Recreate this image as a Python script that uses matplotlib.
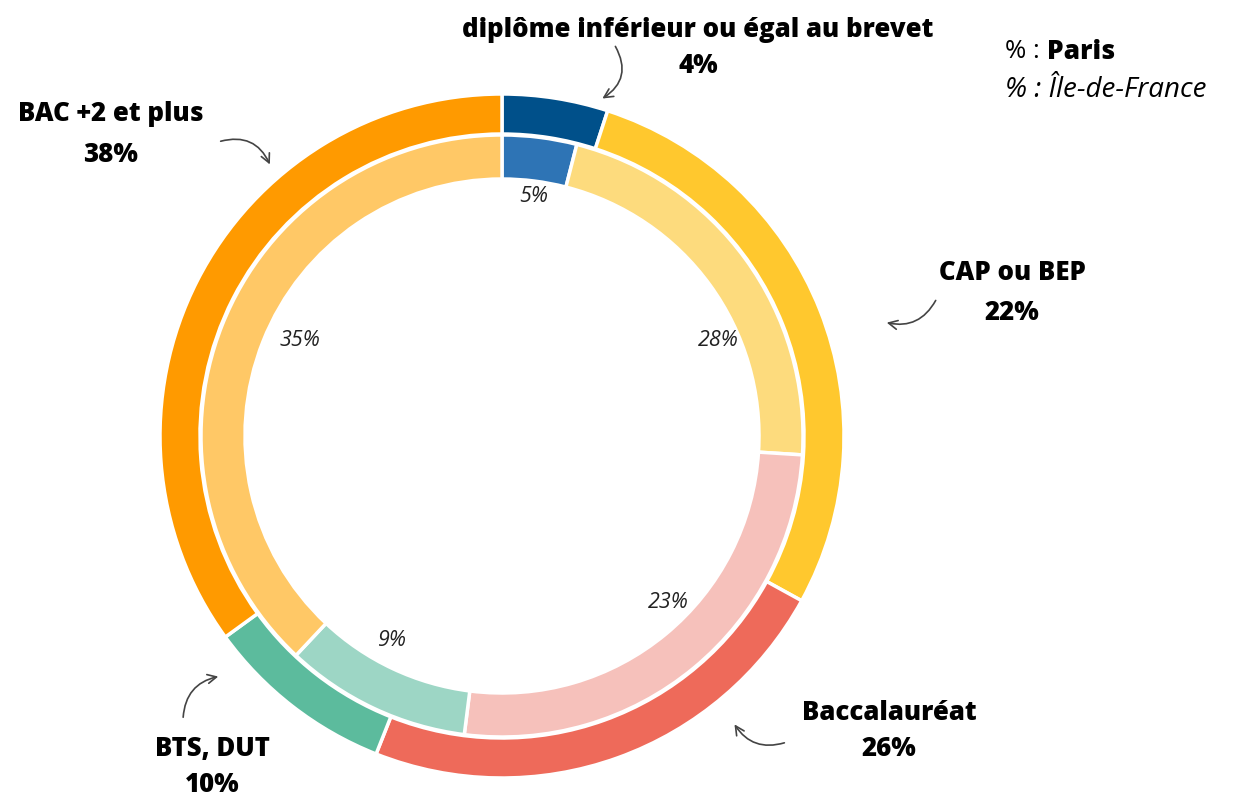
import matplotlib.pyplot as plt

categories = ["diplôme inférieur ou égal au brevet", "CAP ou BEP", "Baccalauréat",
              "BTS, DUT", "BAC +2 et plus"]
paris = [4, 22, 26, 10, 38]
idf = [5, 28, 23, 9, 35]

outer_colors = ["#00508A", "#FFC82E", "#EE6A5A", "#5CBB9D", "#FF9A00"]
inner_colors = ["#2E74B5", "#FDDB7D", "#F6C1BB", "#9DD6C5", "#FFC866"]

plt.rcParams['font.family'] = ['Open Sans', 'DejaVu Sans']

W, H = 1243, 798
fig = plt.figure(figsize=(W / 100, H / 100), dpi=100)
ax = fig.add_axes([0, 0, 1, 1])

cx, cy = 502, H - 436

# rings as drawn in the original (outer ring sized by IdF, inner by Paris)
ax.pie(idf, colors=outer_colors, startangle=90, counterclock=False,
       center=(cx, cy), radius=342, frame=True,
       wedgeprops=dict(width=40, edgecolor='white', linewidth=2.5))
ax.pie(paris, colors=inner_colors, startangle=90, counterclock=False,
       center=(cx, cy), radius=301, frame=True,
       wedgeprops=dict(width=44, edgecolor='white', linewidth=2.5))
ax.set_xlim(0, W)
ax.set_ylim(0, H)
ax.set_aspect('equal')
ax.axis('off')

def Y(y):
    return H - y

# outer labels (Paris, bold)
label_pos = [(698, 30, 66), (1012, 273, 313), (889, 713, 749), (212, 749, 785), (111, 114, 155)]
for name, val, (x, y1, y2) in zip(categories, paris, label_pos):
    ax.text(x, Y(y1), name, ha='center', va='center', fontsize=18.5, fontweight='heavy')
    ax.text(x, Y(y2), f"{val}%", ha='center', va='center', fontsize=18.5, fontweight='heavy')

# inner labels (IdF, italic)
inner_pos = [(534, 197), (718, 340), (668, 603), (392, 641), (300, 340)]
for val, (x, y) in zip(idf, inner_pos):
    ax.text(x, Y(y), f"{val}%", ha='center', va='center', fontsize=15.5, style='italic',
            color='#222222')

# curved arrows
arrows = [((614, 44), (600, 100), -0.5),
          ((937, 298), (884, 322), -0.4),
          ((787, 742), (733, 722), -0.4),
          ((183, 720), (221, 676), -0.4),
          ((218, 142), (271, 167), -0.45)]
for (x0, y0), (x1, y1), rad in arrows:
    ax.annotate("", xy=(x1, Y(y1)), xytext=(x0, Y(y0)),
                arrowprops=dict(arrowstyle='->', color='#444444', lw=1.2,
                                connectionstyle=f"arc3,rad={rad}",
                                mutation_scale=16))

# legend
ax.text(1005, Y(52), "% :", ha='left', va='center', fontsize=18.5)
ax.text(1047, Y(52), "Paris", ha='left', va='center', fontsize=19, fontweight='heavy')
ax.text(1005, Y(90), "% : Île-de-France", ha='left', va='center', fontsize=20,
        style='italic')

fig.savefig("out.png", dpi=100)
